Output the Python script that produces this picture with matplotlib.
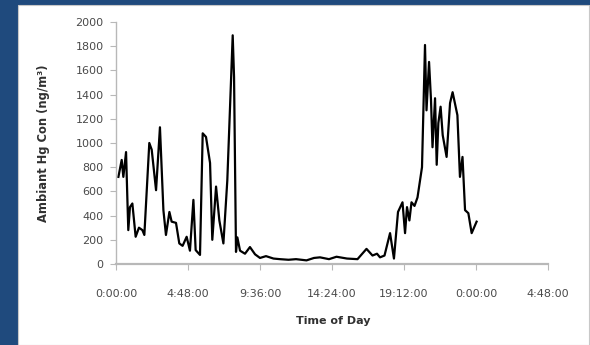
import matplotlib.pyplot as plt
from matplotlib.patches import Rectangle

# time of day in hours since midnight, and ambient Hg (ng/m3)
hours = [0.16, 0.38, 0.49, 0.67, 0.76, 0.82, 0.93, 1.09, 1.31, 1.53, 1.76, 1.89,
         2.22, 2.38, 2.67, 2.93, 3.16, 3.33, 3.56, 3.71, 4.0, 4.22, 4.44, 4.71,
         4.93, 5.16, 5.31, 5.6, 5.78, 6.0, 6.27, 6.42, 6.67, 6.89, 7.16, 7.42,
         7.78, 7.87, 8.0, 8.09, 8.27, 8.6, 8.93, 9.27, 9.6, 10.0, 10.5, 10.93,
         11.5, 12.0, 12.7, 13.2, 13.6, 14.2, 14.7, 15.4, 16.1, 16.7, 17.1, 17.4,
         17.6, 17.9, 18.27, 18.53, 18.8, 19.1, 19.27, 19.4, 19.56, 19.7, 19.9, 20.1,
         20.4, 20.6, 20.7, 20.87, 21.0, 21.1, 21.27, 21.38, 21.49, 21.64, 21.78, 22.04,
         22.27, 22.44, 22.76, 22.93, 23.1, 23.27, 23.49, 23.71, 24.04]
hg = [720, 860, 720, 925, 530, 280, 470, 500, 225, 300, 280, 240,
      1000, 945, 610, 1130, 445, 240, 430, 350, 340, 170, 150, 225,
      110, 530, 115, 75, 1080, 1050, 835, 200, 640, 360, 170, 690,
      1890, 1545, 100, 220, 110, 85, 140, 80, 50, 65, 45, 40,
      35, 40, 30, 50, 55, 40, 60, 45, 40, 125, 70, 85,
      55, 70, 255, 45, 430, 510, 255, 470, 360, 510, 480, 550,
      800, 1810, 1270, 1670, 1355, 965, 1370, 820, 1165, 1300, 1065, 885,
      1330, 1420, 1230, 720, 885, 445, 420, 255, 350]

tick_hours = [0, 4.8, 9.6, 14.4, 19.2, 24.0, 28.8]
tick_labels = ['0:00:00', '4:48:00', '9:36:00', '14:24:00', '19:12:00', '0:00:00', '4:48:00']

fig = plt.figure(figsize=(5.9, 3.45), dpi=100, facecolor='#1f4a7d')
fig.patches.append(Rectangle((18/590, 0), 571/590, 340/345, transform=fig.transFigure,
                             facecolor='white', edgecolor='#c8c8c8', lw=0.8, zorder=-10))

ax = fig.add_axes([116/590, 1-264/345, 432/590, 242/345])
ax.set_facecolor('white')
ax.plot(hours, hg, color='black', lw=1.6)

ax.set_xlim(0, 28.8)
ax.set_ylim(0, 2000)
ax.set_xticks(tick_hours)
ax.set_xticklabels(tick_labels)
ax.set_yticks(range(0, 2001, 200))

for s in ['top', 'right']:
    ax.spines[s].set_visible(False)
for s in ['left', 'bottom']:
    ax.spines[s].set_color('#b8b8b8')
ax.spines['bottom'].set_linewidth(1.6)
ax.spines['left'].set_linewidth(1.0)
ax.tick_params(colors='#b8b8b8', labelcolor='#4a4a4a', labelsize=8, length=4)
ax.tick_params(axis='x', pad=14)
ax.tick_params(axis='y', pad=5)

ax.set_xlabel('Time of Day', fontsize=8, fontweight='bold', color='#303030')
ax.set_ylabel('Ambiant Hg Con (ng/m³)', fontsize=8.3, fontweight='bold', color='#303030')
ax.xaxis.set_label_coords(0.502, -0.215)
ax.yaxis.set_label_coords(-0.152, 0.5)

fig.savefig('out.png', dpi=100, facecolor=fig.get_facecolor())
